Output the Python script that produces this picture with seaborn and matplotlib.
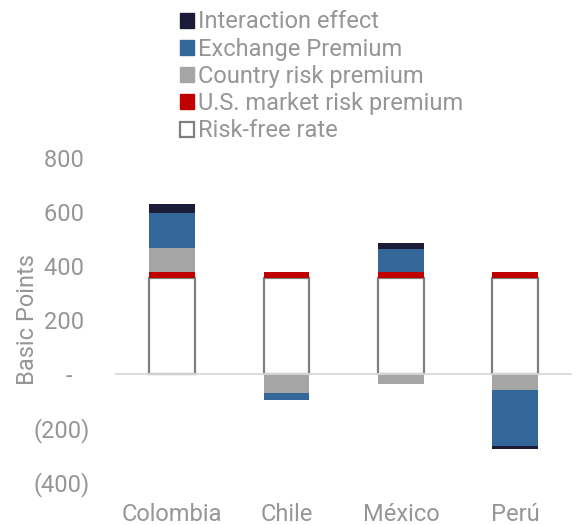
import numpy as np
import matplotlib
matplotlib.use("Agg")
import matplotlib.pyplot as plt
import seaborn as sns
from matplotlib.patches import Patch
from matplotlib.ticker import FuncFormatter

countries = ["Colombia", "Chile", "México", "Perú"]
risk_free = [355, 355, 355, 355]
us_premium = [21, 22, 22, 22]
country_risk = [90, -70, -36, -61]
exchange = [130, -26, 87, -207]
interaction = [33, 0, 22, -10]

labels = ["Risk-free rate", "U.S. market risk premium", "Country risk premium",
          "Exchange Premium", "Interaction effect"]
colors = ["#ffffff", "#c00000", "#a5a5a5", "#336699", "#1c1c38"]

sns.set_theme(style="white")
plt.rcParams["font.family"] = ["Roboto", "DejaVu Sans"]
txt = "#969696"
fs = 17

fig = plt.figure(figsize=(5.81, 5.25), dpi=100)
ax = fig.add_axes([0.198, 0.082, 0.787, 0.617])

layers = [risk_free, us_premium, country_risk, exchange, interaction]
pos = np.zeros(len(countries))
neg = np.zeros(len(countries))
for i, vals in enumerate(layers):
    v = np.array(vals, dtype=float)
    bottoms = np.where(v >= 0, pos, neg)
    if i == 0:
        sns.barplot(x=countries, y=v, bottom=bottoms, color=colors[i], width=0.4,
                    edgecolor="#7f7f7f", linewidth=1.6, ax=ax, saturation=1, zorder=3)
    else:
        sns.barplot(x=countries, y=v, bottom=bottoms, color=colors[i], width=0.4,
                    linewidth=0, ax=ax, saturation=1, zorder=3)
    pos = pos + np.where(v >= 0, v, 0)
    neg = neg + np.where(v < 0, v, 0)

ax.axhline(0, color="#d9d9d9", linewidth=1.3, zorder=5)
ax.set_ylim(-400, 800)
ax.set_xlim(-0.5, 3.5)
ax.set_yticks([-400, -200, 0, 200, 400, 600, 800])

def fmt(y, _):
    if y == 0:
        return "-   "
    if y < 0:
        return f"({int(-y)})"
    return f"{int(y)} "

ax.yaxis.set_major_formatter(FuncFormatter(fmt))
ax.set_ylabel("Basic Points", color=txt, fontsize=fs)
ax.yaxis.set_label_coords(-0.167, 0.5)
ax.tick_params(axis="both", colors=txt, labelsize=fs, length=0)
ax.tick_params(axis="y", pad=18)
ax.tick_params(axis="x", pad=15)
for s in ax.spines.values():
    s.set_visible(False)

handles = []
for lab, col in zip(labels[::-1], colors[::-1]):
    if lab == "Risk-free rate":
        handles.append(Patch(facecolor="#ffffff", edgecolor="#7f7f7f", linewidth=1.6, label=lab))
    else:
        handles.append(Patch(facecolor=col, edgecolor=col, label=lab))
leg = fig.legend(handles=handles, loc="upper left", bbox_to_anchor=(0.294, 0.998),
                 frameon=False, fontsize=fs, handlelength=0.6, handleheight=0.6,
                 handletextpad=0.17, labelspacing=0.18, borderaxespad=0)
for t in leg.get_texts():
    t.set_color(txt)

fig.savefig("out.png", dpi=100)
